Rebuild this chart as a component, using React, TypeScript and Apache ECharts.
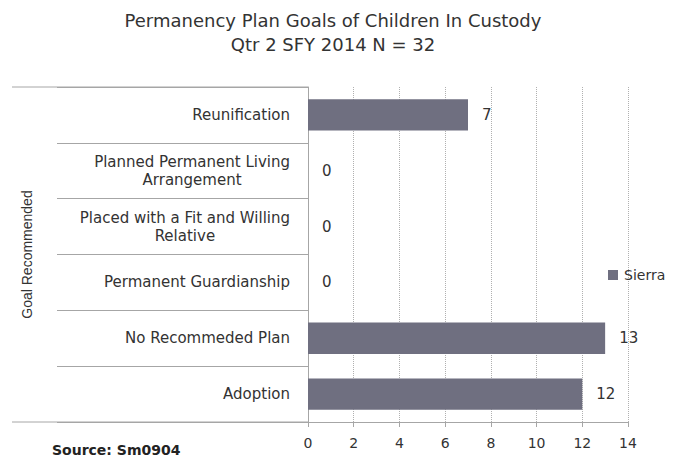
import React, { useEffect, useRef } from "react";
import * as echarts from "echarts";

const categories = [
  "Reunification",
  "Planned Permanent Living\nArrangement",
  "Placed with a Fit and Willing\nRelative",
  "Permanent Guardianship",
  "No Recommeded Plan",
  "Adoption",
];
const sierraValues = [7, 0, 0, 0, 13, 12];
const titleLines = ["Permanency Plan Goals of Children In Custody", "Qtr 2 SFY 2014 N = 32"];
const seriesName = "Sierra";
const sourceText = "Source: Sm0904";
const axisName = "Goal Recommended";

const FONT = "'DejaVu Sans', Verdana, sans-serif";
const GRID = { left: 308, right: 49, top: 87, bottom: 37 };
const W = 677;
const H = 459;

export default function App() {
  const ref = useRef<HTMLDivElement>(null);
  useEffect(() => {
    if (!ref.current) return;
    document.body.style.margin = "0";
    const chart = echarts.init(ref.current, null, { renderer: "svg" });
    const lineColor = "#a6a6a6";
    const bottomY = H - GRID.bottom;
    chart.setOption({
      animation: false,
      backgroundColor: "#ffffff",
      textStyle: { fontFamily: FONT },
      title: [
        {
          text: titleLines.join("\n"),
          left: 328,
          textAlign: "center",
          top: 3,
          textStyle: { fontFamily: FONT, fontSize: 18, fontWeight: "normal", color: "#333", lineHeight: 24 },
        },
        {
          text: sourceText,
          left: 47,
          top: 437,
          textStyle: { fontFamily: FONT, fontSize: 14, fontWeight: "bold", color: "#222", lineHeight: 16 },
        },
      ],
      legend: {
        data: [seriesName],
        left: 608,
        top: 268,
        padding: 0,
        itemWidth: 10,
        itemHeight: 10,
        itemGap: 5,
        icon: "rect",
        textStyle: { fontFamily: FONT, fontSize: 14, color: "#333", padding: [0, 0, 0, 1] },
      },
      grid: { left: GRID.left, right: GRID.right, top: GRID.top, bottom: GRID.bottom, containLabel: false },
      xAxis: {
        type: "value",
        min: 0,
        max: 14,
        interval: 2,
        axisLine: { show: true, lineStyle: { color: lineColor } },
        axisTick: { show: true, length: 5, lineStyle: { color: lineColor } },
        axisLabel: { fontFamily: FONT, fontSize: 14, color: "#333", margin: 14 },
        splitLine: { show: true, lineStyle: { color: "#b0b0b0", type: [1, 1] } },
      },
      yAxis: {
        type: "category",
        inverse: true,
        data: categories,
        name: axisName,
        nameLocation: "middle",
        nameRotate: 90,
        nameGap: 274,
        nameTextStyle: { fontFamily: "'Liberation Sans', Arial, sans-serif", fontSize: 14, color: "#333" },
        axisLine: { show: true, lineStyle: { color: lineColor } },
        axisTick: { show: true, length: 251, interval: 0, lineStyle: { color: lineColor } },
        splitLine: { show: false },
        axisLabel: {
          margin: 18,
          interval: 0,
          align: "right",
          fontFamily: FONT,
          fontSize: 15,
          color: "#333",
          lineHeight: 18,
          formatter: (v: string) =>
            v
              .split("\n")
              .map((l) => `{c|${l}}`)
              .join("\n"),
          rich: { c: { align: "center", fontFamily: FONT, fontSize: 15, color: "#333", lineHeight: 18 } },
        },
      },
      series: [
        {
          name: seriesName,
          type: "bar",
          data: sierraValues,
          barWidth: "56%",
          itemStyle: { color: "#6f6f80" },
          label: {
            show: true,
            position: "right",
            distance: 14,
            fontFamily: FONT,
            fontSize: 15,
            color: "#333",
          },
        },
      ],
      graphic: [
        {
          type: "line",
          shape: { x1: 12, y1: GRID.top, x2: GRID.left, y2: GRID.top },
          style: { stroke: lineColor, lineWidth: 1 },
        },
        {
          type: "line",
          shape: { x1: 12, y1: bottomY, x2: GRID.left, y2: bottomY },
          style: { stroke: lineColor, lineWidth: 1 },
        },
      ],
    });
    return () => chart.dispose();
  }, []);
  return <div ref={ref} style={{ width: W, height: H }} />;
}
